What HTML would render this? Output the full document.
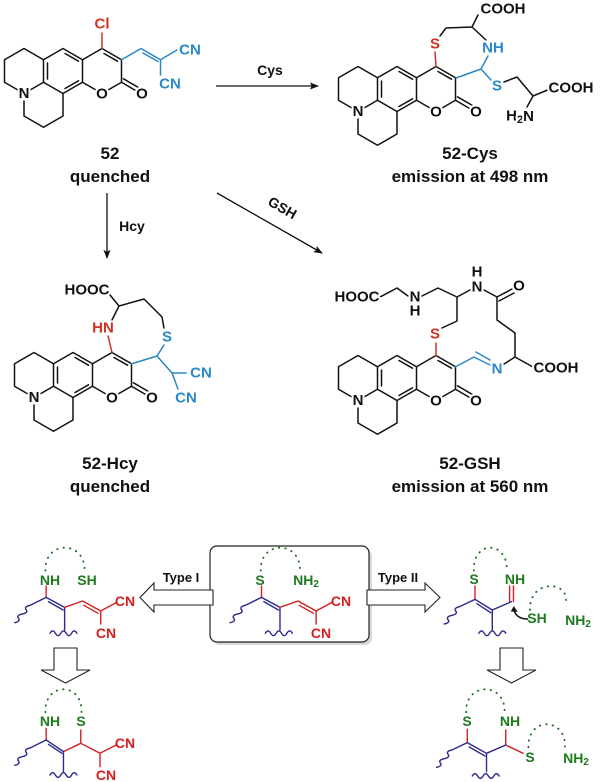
<!DOCTYPE html>
<html><head><meta charset="utf-8"><style>
html,body{margin:0;padding:0;background:#fff;}
svg{display:block;}
text{font-family:"Liberation Sans",Arial,sans-serif;}
.a{font-size:15px;font-weight:bold;text-anchor:middle;dominant-baseline:central;paint-order:stroke;stroke:#fff;stroke-width:4px;stroke-linejoin:round;}
.lbl{font-size:17px;font-weight:bold;text-anchor:middle;fill:#111;}
.g{font-size:14px;font-weight:bold;text-anchor:middle;dominant-baseline:central;fill:#1d7a1d;}
.r{font-size:14px;font-weight:bold;text-anchor:middle;dominant-baseline:central;fill:#d42020;}
.ln{fill:none;stroke:#111;stroke-width:1.5;stroke-linecap:round;stroke-linejoin:round;}
.s{fill:none;stroke-width:1.4;stroke-linecap:round;stroke-linejoin:round;}
.d{fill:none;stroke:#1d6e1d;stroke-width:1.8;stroke-dasharray:0.5 6;stroke-linecap:round;}
</style></head><body>
<svg width="600" height="782" viewBox="0 0 600 782" xmlns="http://www.w3.org/2000/svg">
<defs>
<g id="core">
<g class="ln">
<path d="M0,-22.5 L19.5,-11.25 L19.5,11.25 L0,22.5 L-19.5,11.25 L-19.5,-11.25 Z"/>
<path d="M19.5,-11.25 L39,-22.5 L58.5,-11.25 L58.5,11.25 L39,22.5 L19.5,11.25"/>
<path d="M58.5,11.25 L76,21.5 M60.5,7.8 L78,18"/>
<path d="M-19.5,-11.25 L-39,-22.5 L-58.5,-11.25 L-58.5,11.25 L-39,22.5 L-19.5,11.25"/>
<path d="M-39,22.5 L-39,45 L-19.5,56.25 L0,45 L0,22.5"/>
<path d="M-15.5,-8 L-15.5,8 M2,-17.5 L15.5,-9.8 M15.5,9.8 L2,17.5 M41,-17.5 L54.5,-9.8"/>
</g>
<circle cx="-39" cy="22.5" r="7" fill="#fff"/>
<circle cx="39" cy="23" r="7" fill="#fff"/>
<circle cx="79" cy="23" r="6" fill="#fff"/>
</g>
<marker id="ah" viewBox="0 0 10 10" refX="9" refY="5" markerWidth="9" markerHeight="9" orient="auto" markerUnits="userSpaceOnUse"><path d="M0,1 L10,5 L0,9 L2,5 Z" fill="#111"/></marker>
</defs>

<g transform="translate(63,71)">
<use href="#core"/>
<path class="ln" style="stroke:#d03020" d="M39,-22.5 L39,-38"/>
<path class="ln" style="stroke:#2a88c8" d="M58.5,-11.25 L78,-22.5 L97.5,-11.25 M80,-18 L95,-9.5 M97.5,-11.25 L114,-21 M97.5,-11.25 L97.5,4"/>
<text class="a" x="-39" y="22.5" fill="#111">N</text>
<text class="a" x="39" y="23" fill="#111">O</text>
<text class="a" x="79" y="23" fill="#111">O</text>
<text class="a" x="39" y="-47" fill="#d03020">Cl</text>
<text class="a" x="127" y="-21" fill="#2a88c8">CN</text>
<text class="a" x="107" y="13" fill="#2a88c8">CN</text>
</g>
<text class="lbl" x="110" y="159">52</text>
<text class="lbl" x="110" y="182">quenched</text>

<g transform="translate(397,89)">
<use href="#core"/>
<text class="a" x="-39" y="22.5" fill="#111">N</text>
<text class="a" x="39" y="23" fill="#111">O</text>
<text class="a" x="79" y="23" fill="#111">O</text>
</g>
<path class="ln" style="stroke:#d03020" d="M436,66.5 L435,52"/>
<path class="ln" d="M440,36 L446,28 L472,27 L486,40 M472,27 L478,15"/>
<path class="ln" style="stroke:#2a88c8" d="M488,56 L481,69 L456,78 M481,69 L491,80"/>
<path class="ln" d="M504,82 L517,77 L533,96 L550,89 M533,96 L527,107"/>
<text class="a" x="435" y="44" fill="#d03020">S</text>
<text class="a" x="493" y="48" fill="#2a88c8">NH</text>
<text class="a" x="497" y="86" fill="#2a88c8">S</text>
<text class="a" x="503" y="9" fill="#111">COOH</text>
<text class="a" x="571" y="88" fill="#111">COOH</text>
<text class="a" x="520" y="116" fill="#111">H<tspan font-size="11" dy="4">2</tspan><tspan dy="-4">N</tspan></text>
<text class="lbl" x="470" y="159">52-Cys</text>
<text class="lbl" x="470" y="182">emission at 498 nm</text>

<line x1="216" y1="86" x2="318" y2="86" stroke="#111" stroke-width="1.3" marker-end="url(#ah)"/>
<text x="270" y="75" font-size="14" font-weight="bold" text-anchor="middle" fill="#111">Cys</text>
<line x1="107" y1="193" x2="107" y2="258" stroke="#111" stroke-width="1.3" marker-end="url(#ah)"/>
<text x="132" y="231" font-size="14" font-weight="bold" text-anchor="middle" fill="#111">Hcy</text>
<line x1="217" y1="193" x2="322" y2="253" stroke="#111" stroke-width="1.3" marker-end="url(#ah)"/>
<text x="0" y="0" font-size="14" font-weight="bold" text-anchor="middle" fill="#111" transform="translate(280,212) rotate(30)">GSH</text>

<g transform="translate(73,375)">
<use href="#core"/>
<text class="a" x="-39" y="22.5" fill="#111">N</text>
<text class="a" x="39" y="23" fill="#111">O</text>
<text class="a" x="79" y="23" fill="#111">O</text>
</g>
<path class="ln" style="stroke:#d03020" d="M112,352.5 L108,336"/>
<path class="ln" d="M112,320 L119,306 L110,295 M119,306 L144,299 L162,317 L164,328"/>
<path class="ln" style="stroke:#2a88c8" d="M164,345 L157,356 L131,364 M157,356 L172,373 L186,373 M172,373 L178,389"/>
<text class="a" x="103" y="328" fill="#d03020">HN</text>
<text class="a" x="167" y="337" fill="#2a88c8">S</text>
<text class="a" x="87" y="290" fill="#111">HOOC</text>
<text class="a" x="201" y="373" fill="#2a88c8">CN</text>
<text class="a" x="186" y="398" fill="#2a88c8">CN</text>
<text class="lbl" x="110" y="469">52-Hcy</text>
<text class="lbl" x="110" y="492">quenched</text>

<g transform="translate(397,378)">
<use href="#core"/>
<text class="a" x="-39" y="22.5" fill="#111">N</text>
<text class="a" x="39" y="23" fill="#111">O</text>
<text class="a" x="79" y="23" fill="#111">O</text>
</g>
<path class="ln" style="stroke:#d03020" d="M436,355.5 L436,343"/>
<path class="ln" d="M442,328 L457,321 L457,297 L438,288 L422,296 M408,296 L397,288 L380,297 M457,297 L470,290 M484,290 L497,297 L512,289 M499,301 L514,293 M497,297 L497,320 L515,333 L515,357 L504,364 M515,357 L533,367"/>
<path class="ln" style="stroke:#2a88c8" d="M455,367 L474,357 L490,365 M476,352 L490,360"/>
<text class="a" x="435" y="334" fill="#d03020">S</text>
<text class="a" x="415" y="297" fill="#111">N</text>
<text class="a" x="415" y="311" fill="#111">H</text>
<text class="a" x="477" y="287" fill="#111">N</text>
<text class="a" x="477" y="272" fill="#111">H</text>
<text class="a" x="519" y="286" fill="#111">O</text>
<text class="a" x="497" y="369" fill="#2a88c8">N</text>
<text class="a" x="357" y="297" fill="#111">HOOC</text>
<text class="a" x="556" y="368" fill="#111">COOH</text>
<text class="lbl" x="470" y="469">52-GSH</text>
<text class="lbl" x="470" y="492">emission at 560 nm</text>

<rect x="213" y="549" width="159" height="96" rx="7" fill="#d8d8d8"/>
<rect x="210" y="546" width="159" height="96" rx="7" fill="#fff" stroke="#222" stroke-width="1.2"/>
<path d="M213,590 L154,590 L154,583 L140,597.5 L154,612 L154,605 L213,605 Z" fill="#fff" stroke="#222" stroke-width="1.1"/>
<path d="M367,590 L425,590 L425,583 L440,597.5 L425,612 L425,605 L367,605 Z" fill="#fff" stroke="#222" stroke-width="1.1"/>
<text x="181" y="582" font-size="13" font-weight="bold" text-anchor="middle" fill="#111">Type I</text>
<text x="398" y="582" font-size="13" font-weight="bold" text-anchor="middle" fill="#111">Type II</text>
<path d="M54,648 L77,648 L77,670 L90,670 L65.5,683 L41,670 L54,670 Z" fill="#fff" stroke="#222" stroke-width="1.1"/>
<path d="M500,648 L523,648 L523,670 L536,670 L511.5,683 L487,670 L500,670 Z" fill="#fff" stroke="#222" stroke-width="1.1"/>

<g transform="translate(0,500) scale(0.3846,0.3333)">
<g id="frag">
<path class="d" vector-effect="non-scaling-stroke" d="M678,212 C675,120 782,120 780,212"/>
<path class="s" stroke="#d42020" vector-effect="non-scaling-stroke" d="M680,258 L680,292"/>
<path class="s" stroke="#2a2a8c" vector-effect="non-scaling-stroke" d="M680,292 L638,316 M680,292 L728,322 M686,305 L724,330 M728,322 L728,390"/>
<path class="s" stroke="#2a2a8c" vector-effect="non-scaling-stroke" d="M638,316 q-16,4 -10,13 t-10,13 t-10,13 t-10,13 M690,400 q7,-14 14,0 t14,0 t14,0 t14,0 t14,0"/>
<path class="s" stroke="#d42020" vector-effect="non-scaling-stroke" d="M728,322 L775,303 L822,333 M778,316 L815,340 M822,333 L862,308 M822,333 L822,372"/>
</g>
<use href="#frag" transform="translate(-560,0)"/>
<path class="d" vector-effect="non-scaling-stroke" d="M118,637 C115,545 215,545 212,637"/>
<path class="s" stroke="#d42020" vector-effect="non-scaling-stroke" d="M120,685 L120,720 M165,755 L210,730 L260,760 M210,730 L210,690 M260,760 L302,735 M260,760 L260,800"/>
<path class="s" stroke="#2a2a8c" vector-effect="non-scaling-stroke" d="M120,720 L78,744 M120,720 L165,755 M126,733 L161,760 M165,755 L165,815 M78,744 q-16,4 -10,13 t-10,13 t-10,13 t-10,13 M130,825 q7,-14 14,0 t14,0 t14,0 t14,0 t14,0"/>
<path class="d" vector-effect="non-scaling-stroke" d="M1232,212 C1229,120 1320,120 1318,212 M1378,330 C1375,240 1475,240 1472,302"/>
<path class="s" stroke="#d42020" vector-effect="non-scaling-stroke" d="M1235,258 L1235,298 M1325,305 L1325,258 M1335,305 L1335,258"/>
<path class="s" stroke="#2a2a8c" vector-effect="non-scaling-stroke" d="M1235,298 L1195,320 M1235,298 L1280,330 M1240,311 L1276,338 M1280,330 L1280,390 M1280,330 L1330,305 M1195,320 q-16,4 -10,13 t-10,13 t-10,13 t-10,13 M1245,400 q7,-14 14,0 t14,0 t14,0 t14,0 t14,0"/>
<path class="s" stroke="#111" vector-effect="non-scaling-stroke" d="M1372,357 C1350,357 1340,345 1336,330"/>
<path d="M1336,318 L1346,336 L1328,334 Z" fill="#111"/>
<path class="d" vector-effect="non-scaling-stroke" d="M1212,637 C1209,545 1315,545 1312,637 M1374,742 C1371,650 1472,650 1469,742"/>
<path class="s" stroke="#d42020" vector-effect="non-scaling-stroke" d="M1215,688 L1215,728 M1315,735 L1360,760 M1315,735 L1315,690"/>
<path class="s" stroke="#2a2a8c" vector-effect="non-scaling-stroke" d="M1215,728 L1175,750 M1215,728 L1265,760 M1220,741 L1261,768 M1265,760 L1315,735 M1265,760 L1265,815 M1175,750 q-16,4 -10,13 t-10,13 t-10,13 t-10,13 M1228,828 q7,-14 14,0 t14,0 t14,0 t14,0 t14,0"/>
</g>

<text class="g" x="260" y="580">S</text>
<text class="g" x="306" y="580">NH<tspan font-size="10" dy="4">2</tspan></text>
<text class="r" x="341" y="601">CN</text>
<text class="r" x="321" y="633">CN</text>

<text class="g" x="50" y="580">NH</text>
<text class="g" x="87" y="580">SH</text>
<text class="r" x="125" y="601">CN</text>
<text class="r" x="106" y="633">CN</text>

<text class="g" x="50" y="721">NH</text>
<text class="g" x="81" y="721">S</text>
<text class="r" x="125" y="743">CN</text>
<text class="r" x="106" y="775">CN</text>

<text class="g" x="474" y="579">S</text>
<text class="g" x="515" y="579">NH</text>
<text class="g" x="537" y="618">SH</text>
<text class="g" x="578" y="620">NH<tspan font-size="10" dy="4">2</tspan></text>

<text class="g" x="467" y="721">S</text>
<text class="g" x="510" y="721">NH</text>
<text class="g" x="530" y="757">S</text>
<text class="g" x="576" y="758">NH<tspan font-size="10" dy="4">2</tspan></text>
</svg>
</body></html>
